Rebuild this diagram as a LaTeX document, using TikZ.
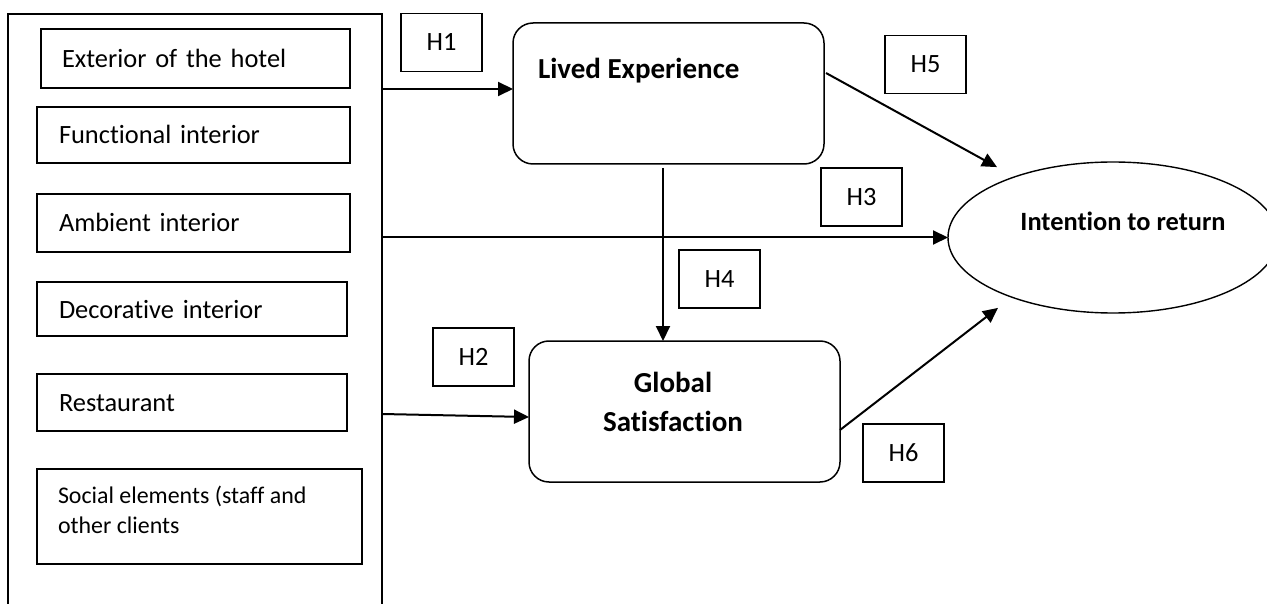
\documentclass[tikz,border=0pt]{standalone}
\usepackage{fontspec}
\setmainfont{Carlito}[Ligatures=NoCommon]
\usetikzlibrary{arrows.meta,shapes.geometric,calc}
\begin{document}
\begin{tikzpicture}[x=1pt,y=-1pt,
  every node/.style={inner sep=0pt, outer sep=0pt, font=\fontsize{26.4}{32}\selectfont},
  outerbox/.style={draw, line width=1.7pt, minimum width=374pt, minimum height=606pt},
  itembox/.style n args={3}{draw, line width=1.3pt, align=left, minimum width=#1, minimum height=#2, text width=#3, text height=18pt, text depth=0pt},
  hbox/.style={draw, line width=1.3pt, minimum width=81pt, minimum height=58pt, text height=17pt, text depth=0pt},
  roundbox/.style={draw, line width=1.5pt, rounded corners=20pt, minimum width=311pt, minimum height=141pt},
  oval/.style={draw, ellipse, line width=1.4pt, minimum width=330pt, minimum height=151pt},
  boldtext/.style={font=\fontsize{29}{38.5}\selectfont\bfseries},
  ovaltext/.style={font=\fontsize{26.4}{32}\selectfont\bfseries},
  arr/.style={line width=2pt, -{Triangle[length=15pt,width=14pt]}}
]
\useasboundingbox (0,0) rectangle (1267,604);
\begin{scope}
\clip (0,0) rectangle (1267,604);
% left container
\node[outerbox] (outer) at (195,317) {};
\node[itembox={309pt}{59pt}{267pt}] (b1) at (195.5,58.5) {Exterior of the hotel};
\node[itembox={313pt}{56pt}{269pt}] (b2) at (193.5,135) {Functional interior};
\node[itembox={313pt}{58pt}{269pt}] (b3) at (193.5,223) {Ambient interior};
\node[itembox={310pt}{54pt}{266pt}] (b4) at (192,309) {Decorative interior};
\node[itembox={310pt}{57pt}{266pt}] (b5) at (192,402.5) {Restaurant};
\node[draw, line width=1.3pt, minimum width=325pt, minimum height=95pt,
  label={[anchor=base west, xshift=21pt, yshift=-64pt, align=left, font=\fontsize{23.9}{30}\selectfont]north west:Social elements (staff and\\other clients}] (b6) at (199.5,516.5) {};
% constructs
\node[roundbox, label={[anchor=base west, xshift=25pt, yshift=-56pt, boldtext]north west:Lived Experience}] (lived) at (668.5,93.5) {};
\node[roundbox, label={[anchor=base, xshift=-11.5pt, yshift=-90pt, boldtext, align=center]north:Global\\Satisfaction}] (gs) at (684.5,411.5) {};
\node[oval, label={[xshift=10pt, yshift=16.5pt, ovaltext]center:Intention to return}] (itr) at (1113,237.5) {};
% hypothesis labels
\node[hbox] (h1) at (441.5,42.5) {H1};
\node[hbox] (h2) at (473.5,357) {H2};
\node[hbox] (h3) at (861.5,197) {H3};
\node[hbox] (h4) at (719.5,279) {H4};
\node[hbox] (h5) at (925.5,64.5) {H5};
\node[hbox] (h6) at (903.5,453) {H6};
% connectors
\coordinate (h1end) at ($(lived.west)+(0,-4.5)$);
\draw[arr] (outer.east |- h1end) -- (h1end);
\draw[arr] (outer.east |- itr.west) -- (itr.west);
\coordinate (h2end) at ($(gs.west)+(0,5.5)$);
\draw[arr] ($(outer.east |- h2end)+(0,-3)$) -- (h2end);
\coordinate (h4top) at ($(lived.south)+(-5.5,4)$);
\draw[arr] (h4top) -- (h4top |- gs.north);
\coordinate (h5end) at ($(itr.north west)+(0.7,-17)$);
\draw[arr] ($(lived.east)+(2,-20.5)$) -- (h5end);
\coordinate (h6end) at ($(itr.south west)+(1.7,17)$);
\draw[arr] ($(gs.east)+(0,18.5)$) -- (h6end);
\end{scope}
\end{tikzpicture}
\end{document}
